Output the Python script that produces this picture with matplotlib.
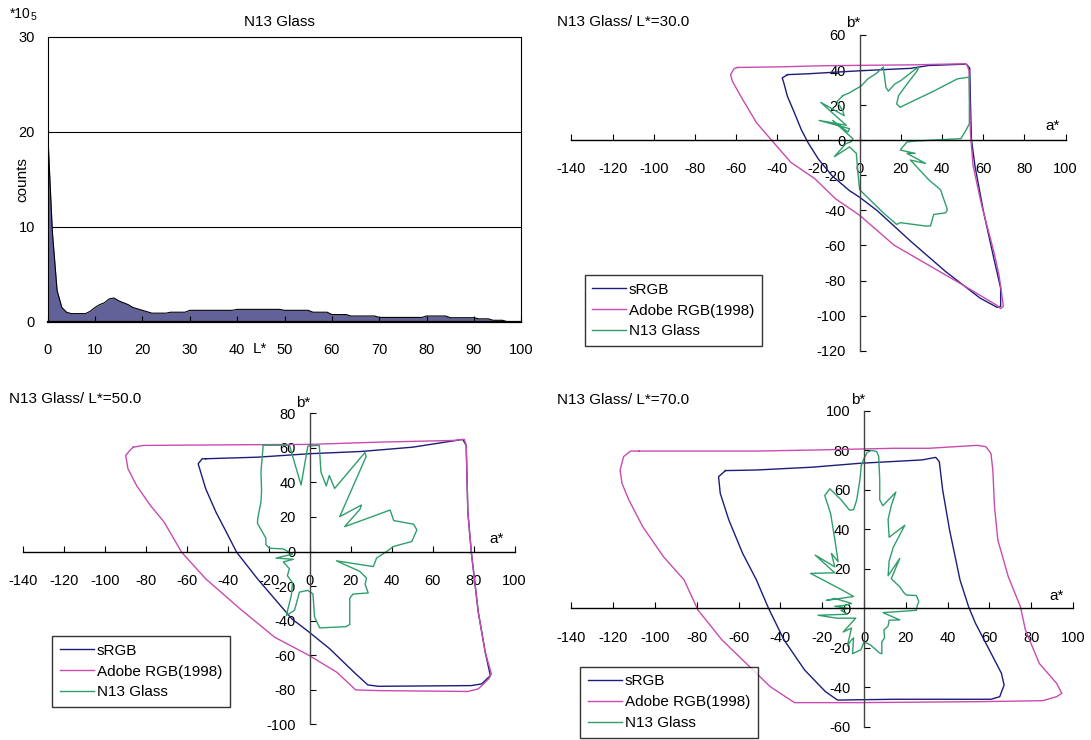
import numpy as np
import matplotlib
matplotlib.use('Agg')
import matplotlib.pyplot as plt

plt.rcParams['font.family'] = ['Liberation Sans', 'DejaVu Sans']
plt.rcParams['font.size'] = 11
plt.rcParams['axes.unicode_minus'] = False

W, H = 1091, 740

# histogram of L* (counts in units of 10^5)
hist_L = [0, 1, 2, 3, 4, 5, 8, 9, 10, 11, 12, 13, 14, 15, 16, 17, 18, 19, 20, 21,
          22, 25, 26, 29, 30, 39, 40, 49, 50, 55, 56, 59, 60, 63, 64, 69, 70, 79, 80, 84,
          85, 90, 91, 93, 94, 96, 97, 100]
hist_counts = [20.2, 9.5, 3.3, 1.5, 1.0, 0.85, 0.85, 1.1, 1.5, 1.8, 2.0, 2.4, 2.5, 2.2, 2.0, 1.8, 1.5, 1.35, 1.2, 1.05,
               0.9, 0.9, 1.0, 1.0, 1.2, 1.2, 1.3, 1.3, 1.2, 1.2, 1.0, 1.0, 0.75, 0.75, 0.6, 0.6, 0.45, 0.45, 0.6, 0.6,
               0.42, 0.42, 0.3, 0.3, 0.15, 0.15, 0.0, 0.0]

# gamut boundaries, (a*, b*) pairs
srgb_30 = [(-35, 37.4), (-37.6, 35.5), (-36.8, 32.6), (-35.1, 25.1), (-31.7, 15.7), (-28.4, 6.2),
           (-25.1, -1.3), (-20, -10.8), (-13.4, -20.2), (-5, -28.7), (0, -32.5), (8.4, -40),
           (25.1, -57.9), (41.8, -74.9), (58.5, -90), (66.8, -95.3), (68.5, -94.7), (68.5, -84.3),
           (65.2, -67.4), (60.2, -40.9), (56, -14.5), (54.3, 0.6), (53.8, 23.2), (53.5, 41.1),
           (51.8, 43.4), (33.4, 42.6), (25, 41), (0, 39.6), (-25, 37.9)]
adobe_30 = [(-59.3, 41.5), (-61, 40.8), (-62.7, 37.4), (-61.8, 33.6), (-56.8, 23.2), (-50.1, 10),
            (-41.8, -1.3), (-33.4, -12.6), (-21.7, -22), (-11.7, -33.4), (0, -42.8), (16.7, -59.8),
            (50.1, -82.5), (66.5, -94), (68.5, -96), (69.8, -94.7), (69.3, -90), (67.7, -76.8),
            (65.2, -63.6), (59.3, -37.2), (55.1, -14.5), (53.8, 4.3), (53.1, 40), (52.1, 43),
            (51, 43.6), (26.7, 43), (-16.7, 42.5), (-40, 41.8)]
glass_30 = [(-8.2, 25.4), (-5, 27), (0.8, 31), (4, 35), (8, 38), (11.5, 41.7), (12.8, 30), (14, 28),
            (17, 32), (20, 34), (26.5, 40), (28.7, 41.7), (27.9, 39.5), (23, 32), (18.9, 25.4),
            (18, 20.7), (19.7, 18.8), (24.6, 21.6), (36, 28), (47.5, 35), (53.3, 36), (53.3, 9.4),
            (51.6, 5.6), (49.2, 0.9), (27.9, -0.4), (23, -1), (19.7, -5.6), (27, -7.5), (23, -7.5),
            (32, -13.2), (24.6, -11.3), (26.2, -13.2), (33.6, -22.6), (39.3, -28.2), (42.6, -39.5),
            (41.8, -41.4), (36, -42.3), (34.4, -48.9), (32, -48.9), (19.7, -47), (18, -48),
            (11.5, -41.4), (3.3, -32), (0, -28.2), (-0.8, -18.8), (-1.6, -7.5), (-3.3, -5.6),
            (-4.9, -3.8), (-12.3, -9.4), (-6.6, -1.9), (-4.1, -0.9), (-3.3, 0.9), (-13.1, 11.3),
            (-5.7, 4.7), (-4.9, 6.6), (-19.7, 11.3), (-6.5, 8.5), (-18.9, 21.6), (-7.5, 14),
            (-8.2, 16.9), (-11, 22)]

srgb_50 = [(-50.9, 53.7), (-52.6, 53.7), (-54.6, 50.8), (-50.9, 36.3), (-45.9, 22.8), (-40.8, 11.2),
           (-35.8, -0.4), (-25.6, -15.8), (-17.2, -27.4), (-8.8, -39), (-0.3, -46.7), (9.8, -56.4),
           (21.6, -69.9), (28.3, -77.2), (33.4, -78), (78.9, -77.6), (84, -76.6), (88.2, -71.8),
           (85.7, -58.3), (82.3, -35.1), (78.9, -0.4), (77.2, 22.8), (76.4, 61.4), (74.7, 64.9),
           (50.3, 60.4), (25, 57.9), (-0.3, 56.6), (-25.6, 54.6)]
adobe_50 = [(-86.3, 60.4), (-88, 58.5), (-90, 55.6), (-88.9, 47.9), (-84.7, 38.2), (-77.9, 26.6),
            (-71.2, 17), (-62.7, -0.4), (-50.9, -15.8), (-34.1, -33.2), (-17.2, -49.6), (-0.3, -60.2),
            (13.2, -69.9), (22.4, -80.1), (33.4, -80.5), (77.2, -81), (82.3, -79.5), (87.4, -73.7),
            (88.7, -70.8), (85.7, -58.3), (82.3, -35.1), (78.9, -0.4), (77.2, 22.8), (76.4, 61.4),
            (75.5, 64.9), (70.5, 64.3), (33.4, 63.3), (-0.3, 62), (-34.1, 61.8), (-81.3, 61.4)]
glass_50 = [(-22.8, 61.5), (-10, 61.5), (-4.3, 38.5), (-1, 61), (4.6, 61.5), (5.4, 46), (8, 38),
            (9.5, 44), (12.1, 36.5), (26.9, 57.3), (27.5, 55), (14.6, 20.2), (25.2, 26.9),
            (24.5, 24.5), (17, 14.4), (30, 20), (39.2, 24), (41, 17.9), (50.7, 15.8), (52.3, 12.5),
            (49.8, 5.8), (40.8, 2.9), (37.5, 0), (32.6, -3.8), (31, -8.7), (13, -5.4), (24.4, -11.5),
            (27.7, -15.4), (27, -19), (28.5, -24), (21.1, -24.6), (19.5, -27), (19.5, -42.3),
            (17.5, -43.5), (4.8, -44.2), (2.3, -38), (1.5, -24.5), (-1, -22.5), (-5.1, -23.5),
            (-7.5, -34), (-11.5, -37), (-9, -25), (-8.5, -18), (-11, -14), (-10, -10), (-13, -6),
            (-8, -4.5), (-16.6, -3.8), (-8.5, -1.5), (-13, 1.5), (-19.8, 1.9), (-21.5, 4),
            (-21.5, 7.7), (-25.6, 16.3), (-25.5, 19), (-23.9, 28.8), (-23.6, 35), (-23.9, 46.2)]

srgb_70 = [(-66.3, 69.8), (-69.6, 66.7), (-68.8, 58.3), (-64.7, 44.8), (-58.1, 27.9), (-51.5, 14.4),
           (-45.7, 0), (-38.3, -16), (-28.4, -31.3), (-18.5, -42.2), (-12.7, -46.5), (14.5, -46.1),
           (60.7, -46.1), (64.9, -44.8), (67, -38.9), (65.7, -32.9), (59.1, -19.4), (53.3, -7.6),
           (50, 0.8), (45.9, 14.4), (40.9, 39.7), (37.6, 60), (36, 74.3), (34.3, 76.5), (27.7, 75.2),
           (-2, 73.5), (-25.1, 71.5), (-51.5, 70.1)]
adobe_70 = [(-107.6, 79.7), (-111.7, 79.7), (-115, 76.9), (-116.7, 70.1), (-115.8, 63.3), (-112.5, 54.9),
            (-105.9, 41.4), (-96, 26.2), (-86.1, 14.4), (-79.5, -0.8), (-68, -16), (-56.4, -27.9),
            (-44.9, -39.7), (-33.3, -47.8), (-2, -47.8), (55.8, -47.3), (85.5, -46.8), (92.1, -44.8),
            (94.6, -43.1), (92.1, -38), (83.8, -27.9), (77.2, -11), (74.8, 0.8), (69, 16), (64, 34.6),
            (62.4, 51.5), (61.6, 70.1), (60.7, 78.5), (58.3, 81.9), (54.1, 82.6), (31, 81.1),
            (14.5, 81.1), (-25.1, 80.2), (-51.5, 79.7)]
glass_70 = [(-1.3, 72.4), (0, 76), (1.5, 79), (3.5, 80), (6, 79.5), (7, 77), (7.5, 65), (7.5, 55),
            (9, 52), (15.2, 58.9), (13, 52), (11.5, 45), (12, 36), (19.5, 42.1), (14, 31), (12, 24),
            (11.5, 16.5), (17.1, 25.3), (13, 15), (17, 11), (19, 8), (20.3, 6.7), (25, 6.5),
            (26.2, 3.5), (25.4, 1.2), (25, -1), (9.1, -2.2), (17.1, -5.9), (12, -6), (11.5, -9),
            (9.5, -11), (9.8, -15), (8.5, -17), (8.5, -23), (7.5, -22.7), (3, -18.5), (0, -17),
            (-1.5, -21), (-5.5, -23), (-5, -15), (-6, -16), (-8, -19), (-6, -10), (-10, -12),
            (-4, -5), (-13, -5), (-22, -3.5), (-8, -3), (-11, -1), (-8, 0), (-14, 1), (-9, 1.5),
            (-6, 2.5), (-14, 5), (-18, 4), (-5, 6), (-10, 9), (-25.6, 17.7), (-14, 18), (-23.4, 27),
            (-14, 21), (-15.6, 27.8), (-12.4, 23.6), (-14, 35), (-16, 48), (-18.8, 57.2),
            (-16.4, 60.6), (-11, 55), (-6.9, 49.7), (-5, 50), (-3.5, 55), (-2, 65)]

series_names = ['sRGB', 'Adobe RGB(1998)', 'N13 Glass']
series_colors = ['#1c1c7c', '#c94bb0', '#2f9e6c']


def px_axes(fig, left, top, right, bottom):
    return fig.add_axes([left / W, 1 - bottom / H, (right - left) / W, (bottom - top) / H])


def ftext(fig, x, y, s, **kw):
    fig.text(x / W, 1 - y / H, s, va='center', **kw)


fig = plt.figure(figsize=(W / 100, H / 100), dpi=100)

# histogram
ax = px_axes(fig, 47.6, 37, 521.4, 321.7)
ax.fill_between(hist_L, hist_counts, 0, color='#626299', lw=0)
ax.plot(hist_L, hist_counts, color='black', lw=0.8)
ax.set_xlim(0, 100)
ax.set_ylim(0, 30)
ax.set_xticks(range(0, 101, 10))
ax.set_yticks([0, 10, 20, 30])
for yv in (10, 20):
    ax.axhline(yv, color='black', lw=0.8, zorder=0)
ax.tick_params(axis='x', direction='in', length=4, pad=15, labelsize=10.5)
ax.tick_params(axis='y', length=0, pad=9, labelsize=10.5)
for sp in ax.spines.values():
    sp.set_linewidth(0.8)
ax.spines['bottom'].set_linewidth(1.6)
ftext(fig, 279, 21.7, 'N13 Glass', ha='center')
ftext(fig, 31, 14, '*10', ha='right', fontsize=10)
ftext(fig, 31, 17, '5', ha='left', fontsize=7.5)
fig.text(22.4 / W, 1 - 180 / H, 'counts', rotation=90, ha='center', va='center')
ftext(fig, 260, 349, 'L*', ha='center')

panels = [
    (571.4, 35, 1065.5, 350.7, (-120, 60), srgb_30, adobe_30, glass_30,
     'N13 Glass/ L*=30.0', (557, 21.7), (853, 23), (1053, 126), (584.5, 275)),
    (23.4, 413.3, 514.5, 724.3, (-100, 80), srgb_50, adobe_50, glass_50,
     'N13 Glass/ L*=50.0', (8.6, 399), (303, 403), (496.6, 539), (52.4, 636)),
    (571.4, 411, 1073.1, 726.7, (-60, 100), srgb_70, adobe_70, glass_70,
     'N13 Glass/ L*=70.0', (557, 400), (858, 400), (1057, 596), (580.3, 666.7)),
]

for (l, t, r, b, ylim, s_rgb, s_adobe, s_glass, title, tpos, bpos, apos, lpos) in panels:
    ax = px_axes(fig, l, t, r, b)
    ax.set_xlim(-140, 100)
    ax.set_ylim(*ylim)
    for pts, name, col in zip([s_rgb, s_adobe, s_glass], series_names, series_colors):
        arr = np.array(pts + [pts[0]])
        ax.plot(arr[:, 0], arr[:, 1], color=col, lw=1.0, label=name)
    ax.spines['top'].set_visible(False)
    ax.spines['right'].set_visible(False)
    ax.spines['left'].set_position(('data', 0))
    ax.spines['bottom'].set_position(('data', 0))
    ax.spines['left'].set_color('#444444')
    ax.spines['bottom'].set_color('black')
    ax.spines['left'].set_linewidth(1.0)
    ax.spines['bottom'].set_linewidth(1.0)
    ax.set_xticks(range(-140, 101, 20))
    ax.set_yticks(range(ylim[0], ylim[1] + 1, 20))
    ax.tick_params(axis='x', direction='in', length=4, pad=16, labelsize=10.5)
    ax.tick_params(axis='y', direction='in', length=4, pad=10, labelsize=10.5)
    ax.patch.set_visible(False)
    ftext(fig, tpos[0], tpos[1], title, ha='left')
    ftext(fig, bpos[0], bpos[1], 'b*', ha='center')
    ftext(fig, apos[0], apos[1], 'a*', ha='center')
    leg = ax.legend(loc='upper left', bbox_to_anchor=(lpos[0] / W, 1 - lpos[1] / H),
                    bbox_transform=fig.transFigure, frameon=True, fancybox=False,
                    edgecolor='black', handlelength=2.2, handletextpad=0.2,
                    labelspacing=0.45, borderpad=0.5, borderaxespad=0, fontsize=11)
    leg.get_frame().set_linewidth(1.0)

fig.savefig('out.png', dpi=100)
